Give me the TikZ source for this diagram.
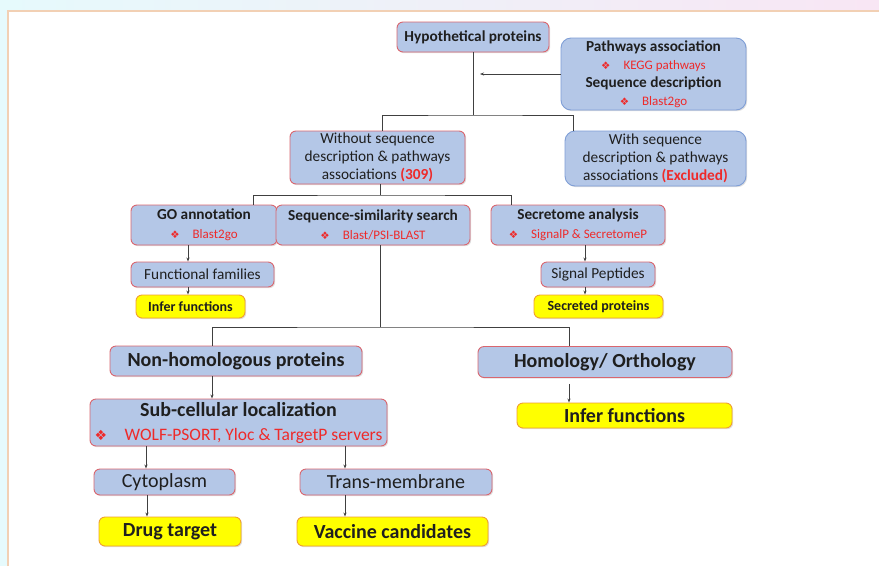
\documentclass[tikz,border=0pt]{standalone}
\usepackage{fontspec}
\setmainfont{Carlito}
\newfontfamily\symfont{DejaVu Sans}
\usetikzlibrary{arrows.meta, shadows}
\definecolor{boxblue}{HTML}{B4C7E7}
\definecolor{edgered}{HTML}{D9666F}
\definecolor{edgeblue}{HTML}{7F9ED6}
\definecolor{hiyellow}{HTML}{FFFF00}
\definecolor{edgeorange}{HTML}{F0A030}
\definecolor{txtred}{HTML}{EE2A2A}
\definecolor{linegray}{HTML}{404040}
\definecolor{bgcyan}{HTML}{E6FAFC}
\definecolor{bgpink}{HTML}{F8E6F4}
\definecolor{framepeach}{HTML}{F2D0B4}
\newcommand{\tool}[2][13]{{\color{txtred}\fontsize{#1}{#1}\selectfont\scalebox{0.8}{\symfont ❖}\quad #2}}
\tikzset{
	card/.style={rectangle, draw=edgered, fill=boxblue, line width=0.9pt, rounded corners=6pt, align=center, inner sep=0pt, text=black!88,
		drop shadow={shadow xshift=1.2pt, shadow yshift=-1.2pt, opacity=0.25}},
	bluecard/.style={card, draw=edgeblue, rounded corners=10pt},
	result/.style={card, draw=edgeorange, fill=hiyellow},
	arr/.style={-{Stealth[length=4pt, width=3pt]}, linegray, line width=0.8pt},
	link/.style={linegray, line width=0.8pt}
}

\begin{document}
\begin{tikzpicture}[x=1pt, y=-1pt]
        \useasboundingbox (0,0) rectangle (879,566);
        % page background
        \fill[bgcyan] (0,0) rectangle (879,566);
        \shade[left color=bgcyan, right color=bgpink] (0,0) rectangle (879,11);
        \fill[white] (8,11) rectangle (879,566);
        \draw[framepeach, line width=1.5pt] (8,566) -- (8,11) -- (879,11);

        \node[card, minimum width=152, minimum height=30, font=\bfseries\fontsize{15.3}{17}\selectfont] (hyp) at (473,37) {Hypothetical proteins};
        \node[bluecard, minimum width=185, minimum height=72, font=\fontsize{15.3}{18}\selectfont] (path) at (653.5,74) {\textbf{Pathways association}\\ \tool{KEGG pathways}\\ \textbf{Sequence description}\\ \tool{Blast2go}};

        \node[card, minimum width=175, minimum height=53, font=\fontsize{15.3}{18}\selectfont] (wo) at (377.5,157.5) {Without sequence\\ description \& pathways\\ associations {\color{txtred}\bfseries(309)}};
        \node[bluecard, minimum width=181, minimum height=55, font=\fontsize{15.3}{18}\selectfont] (wi) at (655.5,158.5) {With sequence\\ description \& pathways\\ associations {\color{txtred}\bfseries(Excluded)}};

        \node[card, minimum width=146, minimum height=40, font=\fontsize{15.3}{19}\selectfont] (go) at (204,225) {\textbf{GO annotation}\\ \tool{Blast2go}};
        \node[card, minimum width=194, minimum height=40, font=\fontsize{15.3}{19}\selectfont] (seq) at (373,225) {\textbf{Sequence-similarity search}\\ \tool{Blast/PSI-BLAST}};
        \node[card, minimum width=174, minimum height=40, font=\fontsize{15.3}{19}\selectfont] (secr) at (578,225) {\textbf{Secretome analysis}\\ \tool{SignalP \& SecretomeP}};

        \node[card, minimum width=143, minimum height=25, font=\fontsize{15.3}{17}\selectfont] (ff) at (202.5,274.5) {Functional families};
        \node[result, minimum width=109, minimum height=23, font=\bfseries\fontsize{14}{16}\selectfont] (inf-go) at (190.5,306.5) {Infer functions};
        \node[card, minimum width=114, minimum height=25, font=\fontsize{15.3}{17}\selectfont] (sig) at (598,274.5) {Signal Peptides};
        \node[result, minimum width=129, minimum height=23, font=\bfseries\fontsize{14}{16}\selectfont] (secp) at (598.5,306.5) {Secreted proteins};

        \node[card, minimum width=252, minimum height=30, font=\bfseries\fontsize{20}{23}\selectfont] (nonh) at (236,361) {Non-homologous proteins};
        \node[card, minimum width=254, minimum height=31, font=\bfseries\fontsize{20}{23}\selectfont] (homo) at (605,362) {Homology/ Orthology};
        \node[result, minimum width=215, minimum height=25, font=\bfseries\fontsize{20}{23}\selectfont] (inf-homo) at (624.5,415.5) {Infer functions};

        \node[card, minimum width=297, minimum height=47, font=\fontsize{20}{24}\selectfont] (sub) at (238.5,422.5) {\textbf{Sub-cellular localization}\\ \tool[17.5]{WOLF-PSORT, Yloc \& TargetP servers}};
        \node[card, minimum width=141, minimum height=26, font=\fontsize{20}{23}\selectfont] (cyto) at (164.5,482) {Cytoplasm};
        \node[card, minimum width=192, minimum height=26, font=\fontsize{20}{23}\selectfont] (trans) at (396,482) {Trans-membrane};
        \node[result, minimum width=142, minimum height=29, font=\bfseries\fontsize{20}{23}\selectfont] (drug) at (170,531.5) {Drug target};
        \node[result, minimum width=191, minimum height=29, font=\bfseries\fontsize{20}{23}\selectfont] (vacc) at (392.5,531.5) {Vaccine candidates};

        \coordinate (split-top) at (473,115);
        \coordinate (split-mid) at (380,195);
        \coordinate (split-low) at (380,327);

        % tree lines
        \draw[link] (hyp.south) -- (split-top);
        \draw[link] ([xshift=4.5pt]wo.north) |- (split-top) -| ([xshift=-82.5pt]wi.north);
        \draw[arr] (path.west) -- ([xshift=7pt]path.west -| split-top);
        \draw[link] ([xshift=2.5pt]wo.south) -- (split-mid);
        \draw[link] ([xshift=49pt]go.north) |- (split-mid) -| ([xshift=-67pt]secr.north);
        \draw[link] ([xshift=7pt]seq.south) -- (split-low);
        \draw[link] ([xshift=-24pt]nonh.north) |- (split-low) -| ([xshift=-36pt]homo.north);

        % arrows
        \draw[arr] ([xshift=-16pt]go.south) -- ([xshift=-16pt]go.south |- ff.north);
        \draw[arr] ([xshift=-14.5pt]ff.south) -- ([xshift=-14.5pt]ff.south |- inf-go.north);
        \draw[arr] ([xshift=7pt]secr.south) -- ([xshift=7pt]secr.south |- sig.north);
        \draw[arr] ([xshift=-13pt]sig.south) -- ([xshift=-13pt]sig.south |- secp.north);
        \draw[arr] ([xshift=-24pt]nonh.south) -- ([xshift=-24pt]nonh.south |- sub.north);
        \draw[arr, shorten <=6pt] ([xshift=-36pt]homo.south) -- ([xshift=-36pt]homo.south |- inf-homo.north);
        \draw[arr] ([xshift=-92.5pt]sub.south) -- ([xshift=-92.5pt]sub.south |- cyto.north);
        \draw[arr] ([xshift=106.5pt]sub.south) -- ([xshift=106.5pt]sub.south |- trans.north);
        \draw[arr] ([xshift=-17.5pt]cyto.south) -- ([xshift=-17.5pt]cyto.south |- drug.north);
        \draw[arr] ([xshift=-51pt]trans.south) -- ([xshift=-51pt]trans.south |- vacc.north);
\end{tikzpicture}
\end{document}
